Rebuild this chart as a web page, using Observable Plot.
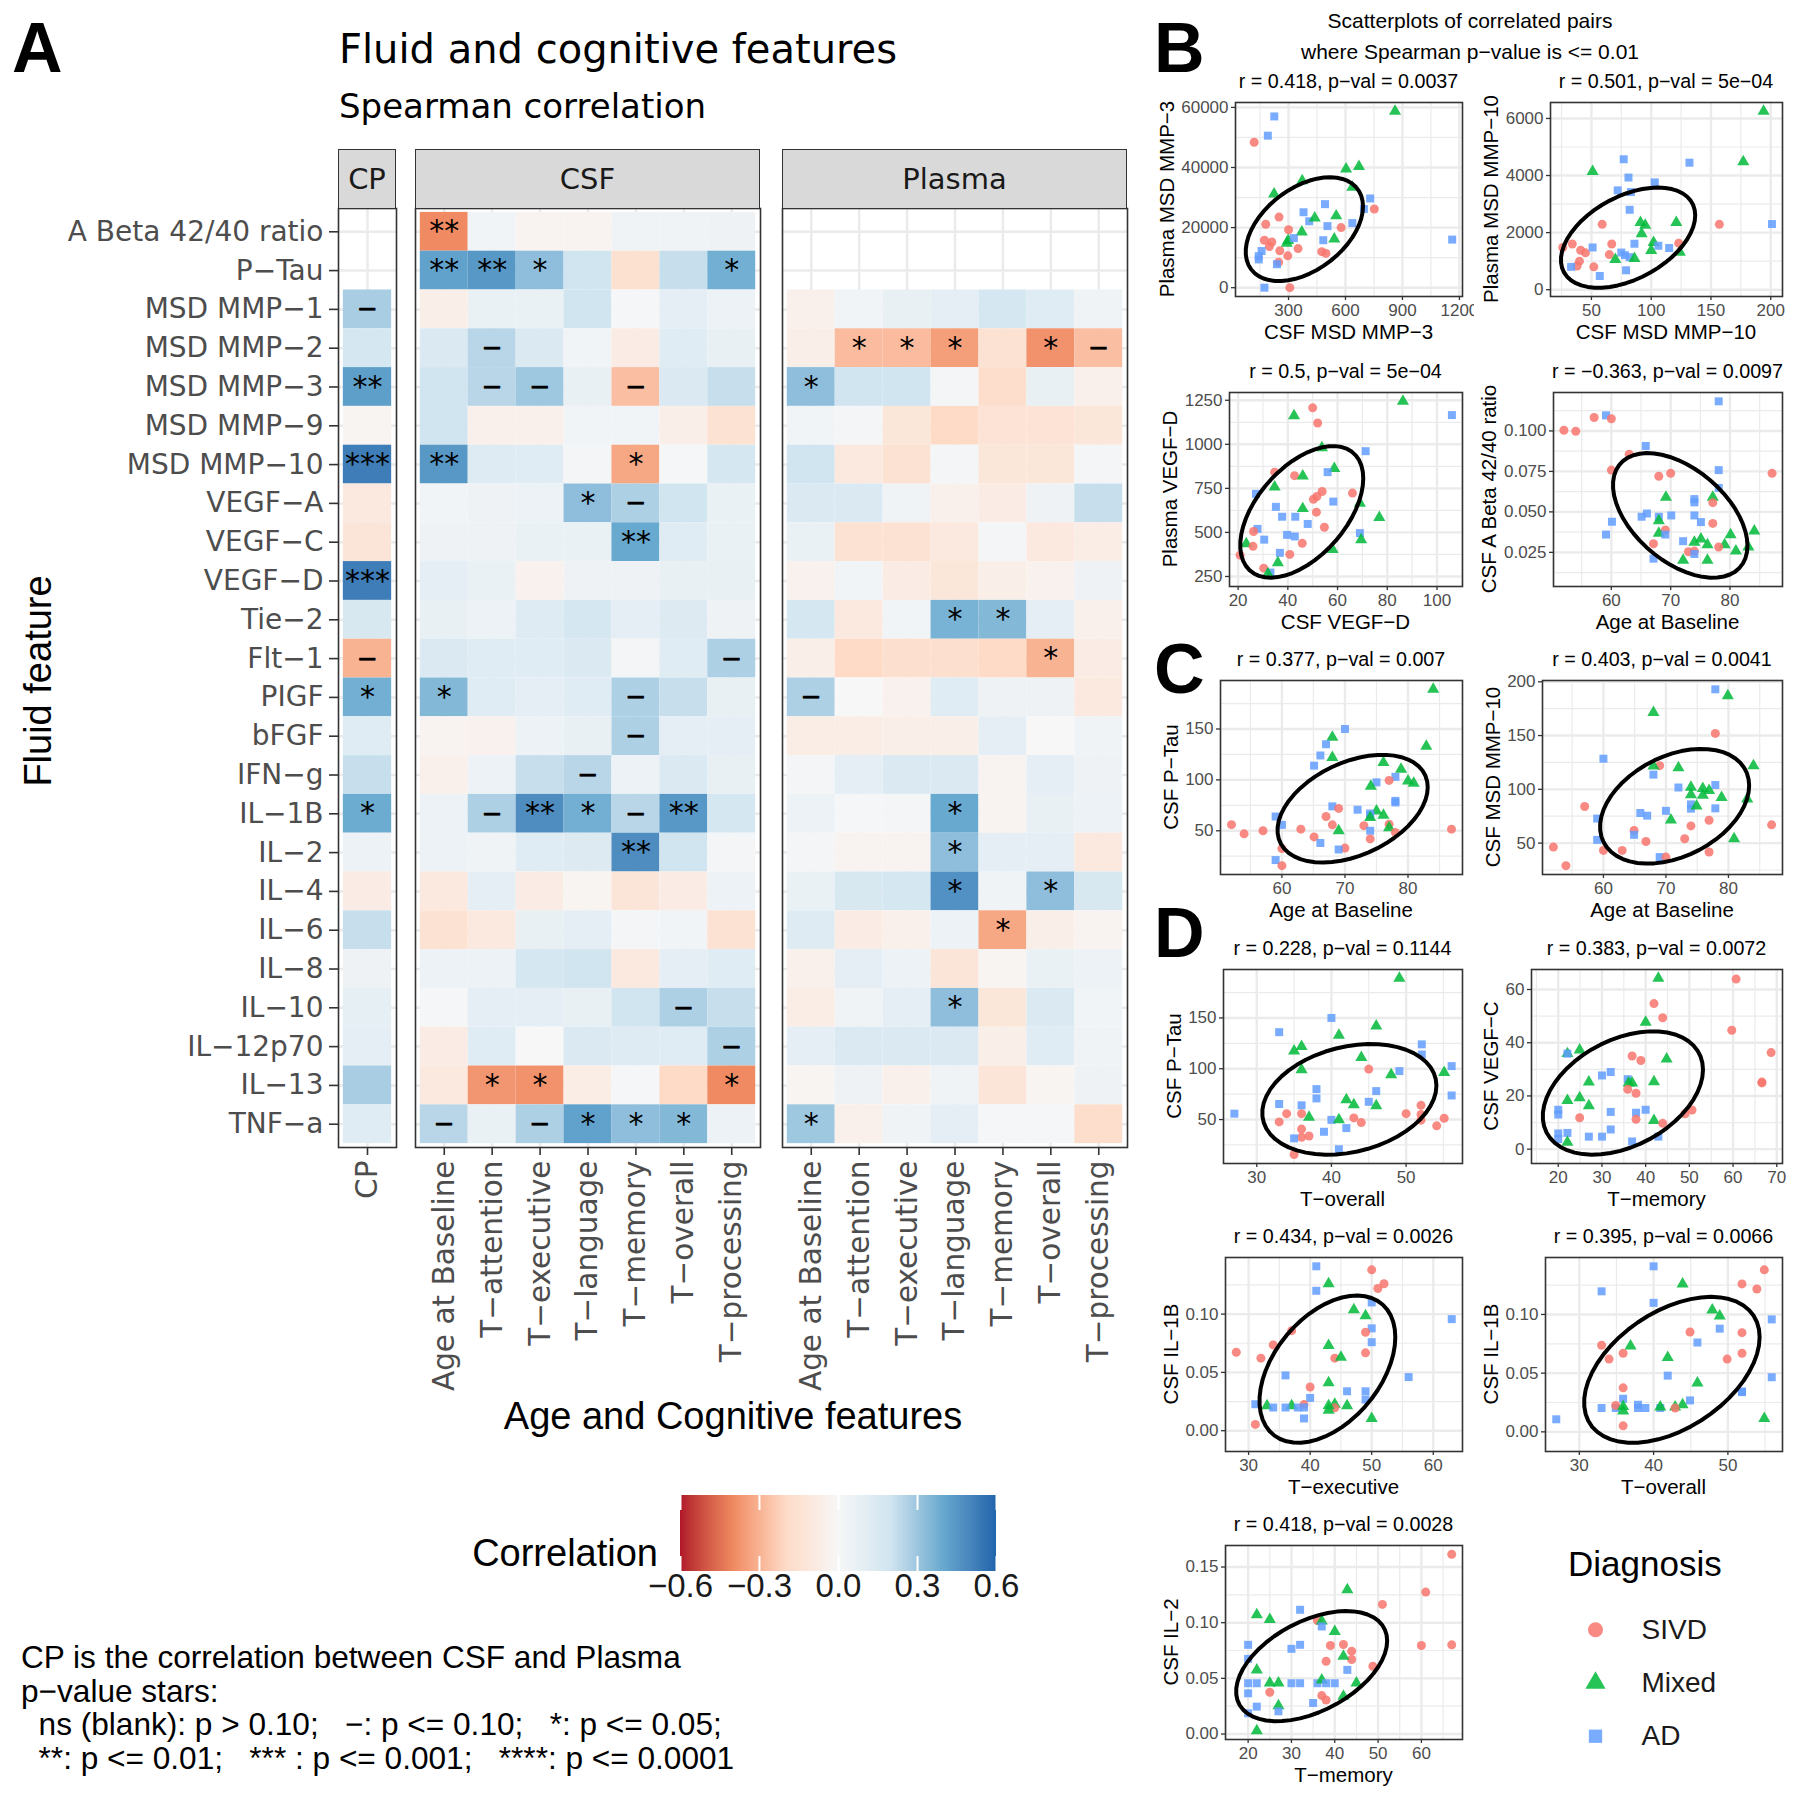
<!DOCTYPE html>
<html><head><meta charset="utf-8">
<script src="https://cdn.jsdelivr.net/npm/d3@7"></script>
<script src="https://cdn.jsdelivr.net/npm/@observablehq/plot@0.6"></script>
<style>
html,body{margin:0;padding:0;background:#fff;}
#root{position:relative;width:1800px;height:1804px;overflow:hidden;background:#fff;}
.t{position:absolute;white-space:pre;line-height:normal;}
.strip{position:absolute;box-sizing:border-box;background:#d9d9d9;border:1.6px solid #333;display:flex;align-items:center;justify-content:center;font-family:"DejaVu Sans",Verdana,sans-serif;font-size:29px;color:#1a1a1a;}
</style></head><body><div id="root"></div><script>
// ---------------- DATA: heatmap ----------------
const rows = ["A Beta 42/40 ratio","P−Tau","MSD MMP−1","MSD MMP−2","MSD MMP−3","MSD MMP−9","MSD MMP−10","VEGF−A","VEGF−C","VEGF−D","Tie−2","Flt−1","PIGF","bFGF","IFN−g","IL−1B","IL−2","IL−4","IL−6","IL−8","IL−10","IL−12p70","IL−13","TNF−a"];
const cpCols = ["CP"];
const cogCols = ["Age at Baseline","T−attention","T−executive","T−language","T−memory","T−overall","T−processing"];
const cpCorr = [null,null,0.28,0.18,0.43,-0.02,0.53,-0.1,-0.13,0.53,0.17,-0.3,0.38,0.12,0.22,0.39,0.06,-0.08,0.22,0.05,0.09,0.1,0.28,0.12];
const cpSig = ["","","−","","**","","***","","","***","","−","*","","","*","","","","","","","",""];
const csfCorr = [
 [-0.40,0.03,-0.03,-0.03,0.04,0.04,0.05],
 [0.42,0.45,0.33,0.2,-0.16,0.22,0.38],
 [-0.06,0.07,0.07,0.2,0.01,0.1,0.06],
 [0.15,0.25,0.15,0.03,-0.08,0.12,0.08],
 [0.2,0.25,0.3,0.08,-0.27,0.15,0.22],
 [0.2,-0.05,-0.05,0.03,0.03,-0.06,-0.15],
 [0.45,0.13,0.12,0.02,-0.33,0.01,0.18],
 [0.03,0.05,0.06,0.33,0.27,0.2,0.07],
 [0.05,0.05,0.07,0.07,0.4,0.12,0.07],
 [0.1,0.07,-0.04,0.05,0.05,0.08,0.08],
 [0.08,0.06,0.13,0.18,0.1,0.14,0.05],
 [0.15,0.12,0.12,0.15,0.02,0.12,0.27],
 [0.35,0.12,0.1,0.12,0.27,0.22,0.08],
 [-0.03,-0.04,0.06,0.08,0.27,0.1,0.1],
 [-0.05,0.06,0.22,0.25,0.06,0.15,0.08],
 [0.06,0.27,0.48,0.38,0.25,0.45,0.18],
 [0.06,0.04,0.12,0.14,0.48,0.2,0.02],
 [-0.1,0.1,-0.08,-0.02,-0.13,-0.08,0.06],
 [-0.15,-0.1,0.08,0.1,0.02,0.03,-0.15],
 [0.06,0.06,0.18,0.2,-0.1,0.1,0.12],
 [0.01,0.1,0.1,0.08,0.2,0.27,0.22],
 [-0.08,0.12,0.0,0.15,0.13,0.12,0.27],
 [-0.1,-0.37,-0.38,-0.07,0.01,-0.2,-0.4],
 [0.25,0.07,0.27,0.42,0.33,0.35,0.06]
];
const csfSig = ["**||||||","**|**|*||||*","||||||","|−|||||","|−|−||−||","||||||","**||||*||","|||*|−||","||||**||","||||||","||||||","||||||−","*||||−||","||||−||","|||−|||","|−|**|*|−|**|","||||**||","||||||","||||||","||||||","|||||−|","||||||−","|*|*||||*","−||−|*|*|*|"];
const plasmaCorr = [
 [null,null,null,null,null,null,null],
 [null,null,null,null,null,null,null],
 [-0.05,0.03,0.08,0.1,0.18,0.12,0.04],
 [-0.06,-0.28,-0.28,-0.35,-0.15,-0.38,-0.27],
 [0.33,0.2,0.2,0.02,-0.18,0.08,-0.05],
 [0.03,0.02,-0.12,-0.2,-0.14,-0.14,-0.12],
 [0.2,-0.1,-0.15,0.02,-0.12,-0.12,0.02],
 [0.15,0.15,0.04,-0.05,-0.08,0.05,0.22],
 [0.07,-0.15,-0.15,-0.1,0.02,-0.1,-0.07],
 [-0.04,0.03,-0.08,-0.12,-0.06,-0.04,0.05],
 [0.18,-0.1,0.03,0.37,0.35,0.1,-0.05],
 [-0.06,-0.2,-0.17,-0.17,-0.2,-0.3,-0.08],
 [0.27,0.0,-0.04,0.12,0.05,0.05,-0.1],
 [-0.07,-0.07,-0.06,-0.06,0.1,0.0,0.04],
 [0.02,0.1,0.15,0.15,-0.03,0.1,0.05],
 [0.06,0.01,0.02,0.4,-0.03,0.08,0.06],
 [0.02,-0.03,-0.03,0.33,0.1,0.1,-0.1],
 [0.07,0.17,0.18,0.47,0.04,0.33,0.17],
 [0.13,-0.08,-0.05,0.06,-0.33,-0.06,-0.03],
 [-0.05,0.1,0.06,-0.13,-0.02,0.07,0.06],
 [-0.07,0.04,0.1,0.33,-0.12,0.15,0.03],
 [0.1,0.15,0.15,0.15,-0.06,0.12,0.04],
 [-0.02,0.05,-0.05,0.04,-0.13,-0.02,0.05],
 [0.3,-0.05,0.04,0.1,0.01,0.01,-0.18]
];
const plasmaSig = ["||||||","||||||","||||||","|*|*|*||*|−","*||||||","||||||","||||||","||||||","||||||","||||||","|||*|*||","|||||*|","−||||||","||||||","||||||","|||*|||","|||*|||","|||*||*|","||||*||","||||||","|||*|||","||||||","||||||","*||||||"];
const rdbuColors = ["#B2182B","#EF8A62","#FDDBC7","#F7F7F7","#D1E5F0","#67A9CF","#2166AC"];
const colorTicks = [-0.6,-0.3,0,0.3,0.6];

// ---------------- DATA: scatterplots ----------------
const groups = ["SIVD","Mixed","AD"];
const groupColors = ["#F8766D","#00BA38","#619CFF"];
const groupSymbols = ["circle","triangle","square"];
const gcode = {S:"SIVD", M:"Mixed", A:"AD"};
const ellipseLevel = 0.76;

const b1Pts = [[225,57000,"A"],[191,50600,"A"],[119,48400,"S"],[861,58700,"M"],[603,39500,"M"],[671,40300,"M"],[372,35600,"M"],[224,31200,"M"],[636,33400,"M"],[730,29700,"A"],[697,26200,"A"],[752,26200,"S"],[492,27800,"A"],[379,25100,"A"],[409,22100,"A"],[438,23200,"M"],[551,23900,"M"],[250,23500,"S"],[180,21100,"S"],[300,19300,"S"],[505,20500,"A"],[577,20000,"S"],[636,21500,"A"],[370,18500,"M"],[173,15800,"S"],[212,15200,"S"],[199,13700,"S"],[298,15700,"M"],[291,14800,"M"],[328,16500,"A"],[483,15800,"A"],[541,16200,"M"],[1162,16000,"A"],[350,13000,"S"],[254,12300,"S"],[475,12000,"S"],[497,11400,"S"],[296,10600,"S"],[158,12200,"A"],[143,10500,"A"],[143,9400,"A"],[248,8500,"S"],[239,7800,"A"],[173,0,"A"],[307,0,"S"]];
const b2Pts = [[194,6250,"M"],[177,4480,"M"],[132,4450,"A"],[77,4570,"A"],[51,4140,"M"],[81,3930,"A"],[103,3760,"A"],[72,3480,"A"],[83,3420,"A"],[82,2800,"A"],[59,2290,"S"],[157,2290,"S"],[201,2300,"A"],[91,2350,"M"],[95,2260,"M"],[121,2350,"M"],[92,1960,"M"],[86,1610,"A"],[102,1650,"M"],[106,1540,"A"],[115,1460,"A"],[123,1630,"S"],[124,1310,"M"],[100,1370,"M"],[26,1480,"S"],[34,1600,"S"],[41,1380,"S"],[45,1290,"S"],[51,1480,"A"],[67,1600,"S"],[75,1300,"A"],[78,1210,"A"],[65,1230,"S"],[82,1140,"A"],[70,1060,"M"],[86,1090,"M"],[40,1000,"S"],[38,830,"S"],[52,800,"S"],[33,800,"A"],[79,680,"A"],[57,480,"A"]];
const b3Pts = [[86.3,1244,"M"],[106,1166,"A"],[50,1207,"S"],[52,1121,"S"],[42.5,1162,"M"],[53.7,980,"M"],[71.3,961,"A"],[58.7,863,"M"],[56,842,"A"],[34.7,842,"S"],[42.7,822,"S"],[46,820,"M"],[34.7,758,"M"],[27.2,719,"A"],[53.8,732,"S"],[51.7,704,"S"],[50.3,688,"S"],[66,723,"S"],[58.3,675,"A"],[69,665,"M"],[35.2,645,"A"],[46,635,"M"],[51.5,615,"S"],[37.7,589,"A"],[43,589,"A"],[76.8,585,"M"],[48,548,"A"],[54.7,529,"S"],[27.8,520,"A"],[26.2,505,"S"],[69,496,"A"],[39.7,486,"A"],[42.8,477,"A"],[69.5,459,"M"],[30.5,459,"A"],[45.8,438,"S"],[23.3,436,"M"],[26,421,"S"],[58,403,"M"],[36.8,384,"A"],[40.8,375,"S"],[20.8,371,"S"],[36,328,"M"],[30.3,297,"S"],[33,272,"A"],[32,265,"M"]];
const b4Pts = [[52,0.1004,"S"],[54,0.0998,"S"],[57.1,0.1083,"S"],[59.1,0.1096,"A"],[60,0.1075,"S"],[78.1,0.1183,"A"],[65.8,0.0907,"A"],[63,0.0856,"S"],[60,0.0758,"S"],[78.1,0.0758,"A"],[68,0.072,"S"],[70,0.0738,"S"],[87.1,0.0738,"S"],[78.1,0.0648,"A"],[69.2,0.0591,"M"],[77.1,0.0591,"M"],[74,0.0579,"A"],[74,0.0559,"A"],[77.1,0.0557,"S"],[66,0.049,"A"],[65.1,0.047,"A"],[68,0.047,"A"],[70.1,0.0478,"A"],[74,0.0478,"A"],[60.1,0.0439,"A"],[68,0.0445,"M"],[75.1,0.0437,"A"],[77.1,0.0429,"S"],[69.1,0.0388,"S"],[68,0.0368,"M"],[59.1,0.036,"A"],[69.1,0.036,"A"],[84.1,0.0382,"M"],[80.1,0.0358,"M"],[75.1,0.0333,"M"],[74,0.0313,"M"],[72.1,0.0319,"A"],[76.2,0.0297,"M"],[79.1,0.0297,"M"],[67.1,0.0303,"S"],[83.1,0.0283,"M"],[78.1,0.0283,"S"],[81,0.0258,"M"],[73,0.0254,"S"],[74,0.0258,"S"],[74,0.024,"A"],[72.1,0.0201,"M"],[76.2,0.0201,"M"],[67.1,0.0211,"A"]];
const c1Pts = [[84,189,"M"],[70,150,"A"],[68,142,"M"],[67,135,"A"],[82.9,133,"M"],[66.1,124,"A"],[68,122,"M"],[65.1,114,"A"],[76.1,117,"M"],[78.9,110.5,"M"],[78,103,"A"],[77,99.5,"S"],[80,99,"M"],[80.9,96.6,"M"],[75,97.6,"A"],[74.1,93.7,"M"],[78,79.4,"A"],[78,77.8,"A"],[68,74,"A"],[69,72,"S"],[72,70.7,"A"],[75,69.4,"M"],[74,67,"A"],[76.1,65.2,"M"],[74,65,"A"],[67,64,"S"],[74,63,"M"],[68,55.8,"S"],[73,55,"S"],[77,56.5,"S"],[59,64,"A"],[60,55.8,"A"],[52,56,"S"],[54,47,"S"],[57,50,"S"],[63,51.6,"S"],[86.9,51.6,"S"],[69,50,"M"],[77,53,"M"],[78,48.4,"S"],[74,50,"A"],[65.1,44,"S"],[74,42,"S"],[66.1,38,"A"],[70,33,"S"],[69,31.6,"A"],[60,32.5,"S"],[59,21.2,"A"],[60,15.7,"S"]];
const c2Pts = [[77.9,193,"A"],[79.9,187,"M"],[68,171.5,"M"],[77.9,152,"S"],[60,128.5,"A"],[84,122,"M"],[69,122,"S"],[68,121.7,"M"],[72,120,"M"],[68,113.7,"A"],[77.9,104,"A"],[74,102,"M"],[72,101.7,"A"],[75.9,100.8,"M"],[76.9,99,"M"],[74,95,"M"],[75.9,94.6,"M"],[78.9,92.5,"M"],[83,91,"M"],[74,86,"A"],[74,82,"A"],[74.9,84.5,"M"],[77.9,82.3,"A"],[70,80,"A"],[57,84,"S"],[65.9,78,"A"],[67,75.5,"A"],[70.8,71.5,"M"],[76.9,71.2,"S"],[59,72.8,"A"],[74,66,"S"],[86.9,67,"S"],[64.9,61.7,"S"],[64.9,57.7,"A"],[73,54,"S"],[80.9,54,"M"],[59,53,"A"],[66.8,51.5,"S"],[52,46.3,"S"],[60,43.2,"S"],[63,43.2,"S"],[76.9,41.7,"S"],[69,37,"A"],[70,37,"S"],[54,29,"S"]];
const d1Pts = [[49.1,189,"M"],[40,150,"A"],[33,136,"A"],[46,142,"M"],[41,133,"M"],[52.1,124,"A"],[52.1,114,"A"],[36,122,"M"],[35,117.5,"M"],[44,111,"M"],[36,99,"M"],[45,99.7,"S"],[56.1,102.6,"A"],[49.1,97.7,"A"],[55.1,96.4,"M"],[48,94,"M"],[38,80,"A"],[38,70.8,"A"],[46,78,"A"],[56.1,73.7,"A"],[42,69.5,"M"],[43,64.6,"M"],[45,67.5,"A"],[46,63.6,"M"],[33,65.3,"A"],[36,64,"A"],[52,64,"S"],[27,55.8,"A"],[34,55.8,"S"],[36,55.8,"S"],[50,55.8,"S"],[52,55,"S"],[37,52.3,"M"],[43,51.6,"S"],[55.1,51.3,"S"],[40,49.7,"A"],[41,49.7,"M"],[52,49.4,"S"],[33,47.7,"S"],[44,47,"S"],[54.1,43.8,"S"],[42,41.6,"A"],[36,40.6,"S"],[39,38,"A"],[37,33.8,"S"],[36,32.5,"S"],[35,31.5,"A"],[41,20.8,"A"],[35,15.6,"S"]];
const d2Pts = [[42.9,64.2,"M"],[60.7,63.9,"S"],[41.9,54.7,"S"],[43.9,49.4,"S"],[59.7,44.7,"S"],[40,47.7,"M"],[68.7,36.3,"S"],[22.1,35.9,"M"],[22.1,35.9,"A"],[24.9,37.3,"M"],[44.8,33.9,"M"],[36.9,35,"S"],[38.9,33.3,"S"],[32,29,"A"],[30,27.7,"A"],[35.9,26.3,"A"],[36.1,24.9,"M"],[36.9,24.9,"M"],[27,25.2,"M"],[41.9,25.3,"M"],[35.9,22.5,"S"],[37.8,21,"S"],[66.6,25.2,"S"],[66.6,24.9,"S"],[22.1,18.3,"M"],[24.9,19.3,"M"],[27,16.3,"M"],[20,14.8,"A"],[20,13,"A"],[32,14,"A"],[37.8,13.7,"A"],[40,14.8,"A"],[24.9,11.8,"S"],[37.8,11.2,"S"],[41.9,10.8,"M"],[43.9,9.7,"S"],[49,13.3,"S"],[50.6,14.7,"S"],[32,7.4,"A"],[20,5.9,"A"],[22.1,6.1,"A"],[27,4.7,"A"],[30,4.7,"A"],[42.9,4.7,"A"],[36.9,2.9,"A"],[20,3.8,"A"],[22.1,2.6,"M"]];
const d3Pts = [[41,0.141,"A"],[50,0.138,"S"],[43,0.126,"M"],[52,0.126,"S"],[51,0.122,"S"],[41,0.12,"A"],[50,0.11,"A"],[47.1,0.1037,"M"],[49,0.0986,"M"],[63,0.0957,"A"],[50,0.0878,"A"],[49,0.0844,"S"],[37,0.0858,"S"],[50,0.0759,"A"],[43,0.073,"M"],[34,0.0736,"S"],[28,0.0673,"S"],[49,0.0668,"S"],[32,0.0622,"S"],[44,0.0622,"S"],[45,0.063,"M"],[36,0.0474,"A"],[56,0.046,"A"],[43,0.0412,"M"],[40,0.0375,"S"],[46,0.0338,"A"],[49,0.0338,"A"],[40,0.0281,"A"],[49,0.0267,"A"],[31.1,0.0227,"A"],[33,0.0213,"M"],[34,0.0199,"A"],[37,0.0213,"M"],[36,0.0199,"A"],[38,0.0199,"A"],[39,0.0224,"S"],[39,0.0199,"A"],[44,0.0227,"M"],[44,0.0196,"S"],[43,0.0213,"M"],[46,0.0213,"M"],[43,0.0176,"M"],[39,0.0105,"A"],[50,0.0105,"M"],[31.1,0.0054,"S"]];
const d4Pts = [[40,0.141,"A"],[54.9,0.138,"S"],[51.9,0.126,"S"],[53.9,0.1217,"S"],[43.9,0.1259,"M"],[33,0.1197,"A"],[40,0.1099,"A"],[47.9,0.1037,"M"],[48.9,0.0986,"M"],[55.9,0.0958,"A"],[48.9,0.0879,"A"],[44.9,0.0851,"S"],[51.9,0.0845,"S"],[45.9,0.0761,"A"],[36.9,0.0732,"M"],[33,0.0738,"S"],[35.9,0.067,"S"],[51.9,0.067,"S"],[34,0.062,"S"],[49.9,0.062,"S"],[41.9,0.0634,"M"],[41.9,0.0479,"A"],[55.9,0.0465,"A"],[45.9,0.0417,"M"],[35.9,0.0375,"S"],[44.9,0.0268,"A"],[51.9,0.0344,"A"],[51.9,0.0338,"A"],[35.9,0.0282,"A"],[33,0.0203,"A"],[34.9,0.0203,"A"],[34.9,0.0225,"S"],[35.9,0.0217,"M"],[35.9,0.0177,"M"],[37.9,0.0231,"A"],[37.9,0.0203,"A"],[38.9,0.0203,"A"],[40.9,0.0203,"A"],[40.9,0.0211,"M"],[42.9,0.0211,"M"],[43.9,0.0231,"M"],[42.9,0.0203,"S"],[26.9,0.0107,"A"],[54.9,0.0113,"M"],[35.9,0.0051,"S"]];
const d5Pts = [[67,0.1614,"S"],[61,0.1275,"S"],[42.9,0.1296,"M"],[51,0.1164,"S"],[32,0.1116,"A"],[22,0.1071,"M"],[25,0.1029,"M"],[36,0.102,"S"],[37,0.1014,"M"],[37,0.0966,"A"],[40,0.0921,"M"],[20,0.0801,"A"],[32,0.0801,"A"],[42,0.0804,"S"],[39,0.0795,"S"],[60,0.0795,"S"],[67,0.0801,"S"],[30,0.0765,"A"],[43.9,0.0744,"S"],[43.9,0.0669,"S"],[42,0.0699,"M"],[20,0.0675,"A"],[38,0.0654,"S"],[48.8,0.0609,"S"],[42.9,0.0576,"A"],[22,0.0576,"M"],[20,0.0456,"A"],[22,0.0456,"A"],[25,0.0459,"M"],[27,0.0459,"M"],[30,0.0456,"A"],[32,0.0456,"A"],[36,0.0456,"A"],[37,0.0486,"M"],[38,0.0456,"A"],[40,0.0456,"A"],[45,0.0459,"M"],[25,0.0375,"S"],[20,0.0366,"A"],[37,0.0345,"S"],[42,0.0339,"M"],[38,0.0306,"S"],[35,0.0279,"A"],[27,0.0255,"M"],[22,0.0246,"A"],[27,0.0204,"A"],[20,0.0186,"A"],[22,0.003,"M"]];

// tick values and labels
const b1XT=[300,600,900,1200], b1XL=["300","600","900","1200"], b1YT=[0,20000,40000,60000], b1YL=["0","20000","40000","60000"];
const b2XT=[50,100,150,200], b2XL=["50","100","150","200"], b2YT=[0,2000,4000,6000], b2YL=["0","2000","4000","6000"];
const b3XT=[20,40,60,80,100], b3XL=["20","40","60","80","100"], b3YT=[250,500,750,1000,1250], b3YL=["250","500","750","1000","1250"];
const b4XT=[60,70,80], b4XL=["60","70","80"], b4YT=[0.025,0.05,0.075,0.1], b4YL=["0.025","0.050","0.075","0.100"];
const c1XT=[60,70,80], c1XL=["60","70","80"], c1YT=[50,100,150], c1YL=["50","100","150"];
const c2XT=[60,70,80], c2XL=["60","70","80"], c2YT=[50,100,150,200], c2YL=["50","100","150","200"];
const d1XT=[30,40,50], d1XL=["30","40","50"], d1YT=[50,100,150], d1YL=["50","100","150"];
const d2XT=[20,30,40,50,60,70], d2XL=["20","30","40","50","60","70"], d2YT=[0,20,40,60], d2YL=["0","20","40","60"];
const d3XT=[30,40,50,60], d3XL=["30","40","50","60"], d3YT=[0,0.05,0.1], d3YL=["0.00","0.05","0.10"];
const d4XT=[30,40,50], d4XL=["30","40","50"], d4YT=[0,0.05,0.1], d4YL=["0.00","0.05","0.10"];
const d5XT=[20,30,40,50,60,70], d5XL=["20","30","40","50","60","70"], d5YT=[0,0.05,0.1,0.15], d5YL=["0.00","0.05","0.10","0.15"];

// ---------------- helpers ----------------
const root = document.getElementById("root");
const SANS = '"Liberation Sans", Arial, Helvetica, sans-serif';
const DEJA = '"DejaVu Sans", Verdana, sans-serif';
function txt(s, x, y, o = {}) {
  const d = document.createElement("div");
  d.className = "t";
  d.textContent = s;
  d.style.left = x + "px"; d.style.top = y + "px";
  d.style.fontFamily = o.font || SANS;
  d.style.fontSize = (o.size || 20) + "px";
  d.style.color = o.color || "#000";
  if (o.weight) d.style.fontWeight = o.weight;
  const ax = o.anchor === "start" ? "0" : o.anchor === "end" ? "-100%" : "-50%";
  d.style.transform = `translate(${ax},-50%)` + (o.rotate ? ` rotate(${o.rotate}deg)` : "");
  root.appendChild(d);
  return d;
}
function place(node, left, top) {
  node.style.position = "absolute";
  node.style.left = left + "px";
  node.style.top = top + "px";
  root.appendChild(node);
}
const rdbu = d3.piecewise(d3.interpolateLab, rdbuColors);
const colorScale = {type: "linear", domain: [-0.6, 0.6], interpolate: rdbu};

// ---------------- heatmap panels ----------------
const P_TOP = 208, P_H = 939, STRIP_TOP = 149;
function heatPanel(cols, vals, sigs, left, right, withY, stripLabel) {
  const data = [];
  rows.forEach((r, i) => {
    const sg = sigs[i].split("|");
    cols.forEach((c, j) => {
      const v = vals[i][j];
      if (v !== null && v !== undefined) data.push({r, c, v, s: sg[j] || ""});
    });
  });
  const mL = withY ? left - 20 : 3, mR = 3, mT = 3, mB = 300;
  const W = right - left;
  const svg = Plot.plot({
    width: W + mL + mR, height: P_H + mT + mB,
    marginLeft: mL, marginRight: mR, marginTop: mT, marginBottom: mB,
    style: {fontFamily: DEJA, fontSize: "28px", background: "transparent", overflow: "visible", maxWidth: "none"},
    x: {type: "band", domain: cols, paddingInner: 0, paddingOuter: 0.1, round: false, axis: null},
    y: {type: "band", domain: rows, paddingInner: 0, paddingOuter: 0.1, round: false, axis: null},
    color: colorScale,
    marks: [
      Plot.gridX({stroke: "#ebebeb", strokeOpacity: 1, strokeWidth: 2.5}),
      Plot.gridY({stroke: "#ebebeb", strokeOpacity: 1, strokeWidth: 2.5}),
      Plot.cell(data, {x: "c", y: "r", fill: "v", inset: 0}),
      Plot.text(data.filter(d => d.s && d.s !== "−"), {x: "c", y: "r", text: "s", fontSize: 30, fill: "black"}),
      Plot.text(data.filter(d => d.s === "−"), {x: "c", y: "r", text: "s", fontSize: 25, fill: "black", stroke: "black", strokeWidth: 0.7}),
      Plot.frame({stroke: "#333", strokeWidth: 1.6}),
      Plot.axisX({tickRotate: -90, tickSize: 8, tickPadding: 5, label: null, stroke: "#333", strokeWidth: 1.6, fill: "#4d4d4d", fontSize: 29.5}),
      withY ? Plot.axisY({tickSize: 9, tickPadding: 6, label: null, stroke: "#333", strokeWidth: 1.6, fill: "#4d4d4d", fontSize: 28}) : null
    ]
  });
  place(svg, left - mL, P_TOP - mT);
  const st = document.createElement("div");
  st.className = "strip";
  st.style.left = left + "px"; st.style.top = STRIP_TOP + "px";
  st.style.width = W + "px"; st.style.height = (P_TOP - STRIP_TOP + 1) + "px";
  st.textContent = stripLabel;
  root.appendChild(st);
}
heatPanel(cpCols, cpCorr.map(v => [v]), cpSig.map(s => s), 338, 396, true, "CP");
heatPanel(cogCols, csfCorr, csfSig, 415, 760, false, "CSF");
heatPanel(cogCols, plasmaCorr, plasmaSig, 782, 1127, false, "Plasma");

// titles & axis titles for heatmap
txt("A", 12, 48, {size: 70, weight: "bold", anchor: "start"});
txt("Fluid and cognitive features", 339, 49, {font: DEJA, size: 40, anchor: "start"});
txt("Spearman correlation", 339, 106, {font: DEJA, size: 34, anchor: "start"});
txt("Fluid feature", 38, 681, {size: 38, rotate: -90});
txt("Age and Cognitive features", 733, 1416, {size: 38});
txt("Correlation", 658, 1553, {size: 38, anchor: "end"});

// colour bar
const cbar = Plot.legend({
  color: colorScale, width: 356, height: 76 + 44, marginTop: 0, marginBottom: 44, marginLeft: 20, marginRight: 20,
  ticks: colorTicks, tickFormat: d3.format(".1f"), tickSize: 0, label: null,
  style: {fontFamily: SANS, fontSize: "33px", color: "#1a1a1a", background: "transparent", maxWidth: "none", overflow: "visible"}
});
place(cbar, 660, 1495);
cbar.querySelectorAll(".tick line").forEach(l => {
  l.setAttribute("stroke", "white");
  l.setAttribute("stroke-width", "2");
  l.setAttribute("y1", "-76"); l.setAttribute("y2", "0");
  l.setAttribute("stroke-dasharray", "15 46 15");
});

// caption
const capLines = ["CP is the correlation between CSF and Plasma", "p−value stars:", "  ns (blank): p > 0.10;   −: p <= 0.10;   *: p <= 0.05;", "  **: p <= 0.01;   *** : p <= 0.001;   ****: p <= 0.0001"];
capLines.forEach((s, i) => txt(s, 21, 1657 + i * 33.5, {size: 31.6, anchor: "start"}));

// ---------------- scatterplots ----------------
function trobEllipse(pts) {
  const n = pts.length, p = 2, nu = 5;
  let loc = [d3.mean(pts, d => d.x), d3.mean(pts, d => d.y)];
  let w = pts.map(() => 1), X;
  for (let it = 0; it < 25; it++) {
    const w0 = w.slice();
    X = pts.map(d => [d.x - loc[0], d.y - loc[1]]);
    const sw = d3.sum(w);
    let a = 0, b = 0, c = 0;
    X.forEach((v, i) => { const wi = w[i] / sw; a += wi * v[0] * v[0]; b += wi * v[0] * v[1]; c += wi * v[1] * v[1]; });
    const det = a * c - b * b;
    const Q = X.map(v => (c * v[0] * v[0] - 2 * b * v[0] * v[1] + a * v[1] * v[1]) / det);
    w = Q.map(q => (nu + p) / (nu + q));
    const sw2 = d3.sum(w);
    loc = [d3.sum(pts, (d, i) => w[i] * d.x) / sw2, d3.sum(pts, (d, i) => w[i] * d.y) / sw2];
    if (w.every((wi, i) => Math.abs(wi - w0[i]) < 0.01)) break;
  }
  let a = 0, b = 0, c = 0;
  X.forEach((v, i) => { a += w[i] * v[0] * v[0]; b += w[i] * v[0] * v[1]; c += w[i] * v[1] * v[1]; });
  a /= n; b /= n; c /= n;
  const dfd = n - 1;
  const F = (dfd / 2) * (Math.pow(1 - ellipseLevel, -2 / dfd) - 1);
  const radius = Math.sqrt(2 * F);
  const R11 = Math.sqrt(a), R12 = b / R11, R22 = Math.sqrt(c - R12 * R12);
  const out = [];
  for (let k = 0; k <= 51; k++) {
    const t = k * 2 * Math.PI / 51, ct = Math.cos(t), s = Math.sin(t);
    out.push({x: loc[0] + radius * ct * R11, y: loc[1] + radius * (ct * R12 + s * R22)});
  }
  return out;
}
function minorOf(ticks, lo, hi) {
  const step = ticks[1] - ticks[0], out = [];
  for (let i = -3; i < ticks.length + 3; i++) {
    const m = ticks[0] + (i + 0.5) * step;
    if (m > lo && m < hi) out.push(m);
  }
  return out;
}
const meas = document.createElement("canvas").getContext("2d");
function scatter(pts, box, xt, xl, yt, yl, title, xlab, ylab) {
  const data = pts.map(([x, y, g]) => ({x, y, g: gcode[g]}));
  const ell = trobEllipse(data);
  const [xa, xb] = d3.extent(data.concat(ell), d => d.x);
  const [ya, yb] = d3.extent(data.concat(ell), d => d.y);
  const xd = [xa - (xb - xa) * 0.05, xb + (xb - xa) * 0.05];
  const yd = [ya - (yb - ya) * 0.05, yb + (yb - ya) * 0.05];
  const [L, T, R, B] = box;
  const mL = 70, mR = 12, mT = 8, mB = 34;
  const xIn = xt.filter(v => v >= xd[0] && v <= xd[1]);
  const yIn = yt.filter(v => v >= yd[0] && v <= yd[1]);
  const svg = Plot.plot({
    width: R - L + mL + mR, height: B - T + mT + mB,
    marginLeft: mL, marginRight: mR, marginTop: mT, marginBottom: mB,
    style: {fontFamily: SANS, fontSize: "17px", background: "transparent", overflow: "hidden", maxWidth: "none"},
    x: {domain: xd, axis: null}, y: {domain: yd, axis: null},
    color: {domain: groups, range: groupColors},
    symbol: {domain: groups, range: groupSymbols},
    marks: [
      Plot.gridX(minorOf(xt, xd[0], xd[1]), {stroke: "#ebebeb", strokeOpacity: 1, strokeWidth: 1.2}),
      Plot.gridY(minorOf(yt, yd[0], yd[1]), {stroke: "#ebebeb", strokeOpacity: 1, strokeWidth: 1.2}),
      Plot.gridX(xIn, {stroke: "#ebebeb", strokeOpacity: 1, strokeWidth: 2.4}),
      Plot.gridY(yIn, {stroke: "#ebebeb", strokeOpacity: 1, strokeWidth: 2.4}),
      Plot.dot(data, {x: "x", y: "y", fill: "g", symbol: "g", r: 4.5, fillOpacity: 0.85}),
      Plot.line(ell, {x: "x", y: "y", stroke: "black", strokeWidth: 4}),
      Plot.frame({stroke: "#333", strokeWidth: 1.6}),
      Plot.axisX(xIn, {tickSize: 4, tickPadding: 3, label: null, tickFormat: d => xl[xt.indexOf(d)], stroke: "#333", strokeWidth: 1.3, fill: "#4d4d4d"}),
      Plot.axisY(yIn, {tickSize: 4, tickPadding: 3, label: null, tickFormat: d => yl[yt.indexOf(d)], stroke: "#333", strokeWidth: 1.3, fill: "#4d4d4d"})
    ]
  });
  place(svg, L - mL, T - mT);
  meas.font = `17px ${SANS}`;
  const lw = d3.max(yIn, v => meas.measureText(yl[yt.indexOf(v)]).width);
  txt(title, (L + R) / 2, T - 21, {size: 19.7});
  txt(xlab, (L + R) / 2, B + 36, {size: 20.5});
  txt(ylab, L - (lw + 21), (T + B) / 2, {size: 20.5, rotate: -90});
}
scatter(b1Pts, [1235, 102, 1462, 296], b1XT, b1XL, b1YT, b1YL, "r = 0.418, p−val = 0.0037", "CSF MSD MMP−3", "Plasma MSD MMP−3");
scatter(b2Pts, [1550, 102, 1782, 296], b2XT, b2XL, b2YT, b2YL, "r = 0.501, p−val = 5e−04", "CSF MSD MMP−10", "Plasma MSD MMP−10");
scatter(b3Pts, [1229, 392, 1462, 586], b3XT, b3XL, b3YT, b3YL, "r = 0.5, p−val = 5e−04", "CSF VEGF−D", "Plasma VEGF−D");
scatter(b4Pts, [1553, 392, 1782, 586], b4XT, b4XL, b4YT, b4YL, "r = −0.363, p−val = 0.0097", "Age at Baseline", "CSF A Beta 42/40 ratio");
scatter(c1Pts, [1220, 680, 1462, 874], c1XT, c1XL, c1YT, c1YL, "r = 0.377, p−val = 0.007", "Age at Baseline", "CSF P−Tau");
scatter(c2Pts, [1542, 680, 1782, 874], c2XT, c2XL, c2YT, c2YL, "r = 0.403, p−val = 0.0041", "Age at Baseline", "CSF MSD MMP−10");
scatter(d1Pts, [1223, 969, 1462, 1163], d1XT, d1XL, d1YT, d1YL, "r = 0.228, p−val = 0.1144", "T−overall", "CSF P−Tau");
scatter(d2Pts, [1531, 969, 1782, 1163], d2XT, d2XL, d2YT, d2YL, "r = 0.383, p−val = 0.0072", "T−memory", "CSF VEGF−C");
scatter(d3Pts, [1225, 1257, 1462, 1451], d3XT, d3XL, d3YT, d3YL, "r = 0.434, p−val = 0.0026", "T−executive", "CSF IL−1B");
scatter(d4Pts, [1545, 1257, 1782, 1451], d4XT, d4XL, d4YT, d4YL, "r = 0.395, p−val = 0.0066", "T−overall", "CSF IL−1B");
scatter(d5Pts, [1225, 1545, 1462, 1739], d5XT, d5XL, d5YT, d5YL, "r = 0.418, p−val = 0.0028", "T−memory", "CSF IL−2");

txt("B", 1154, 48, {size: 70, weight: "bold", anchor: "start"});
txt("C", 1154, 669, {size: 70, weight: "bold", anchor: "start"});
txt("D", 1154, 933, {size: 70, weight: "bold", anchor: "start"});
txt("Scatterplots of correlated pairs", 1470, 21, {size: 21});
txt("where Spearman p−value is <= 0.01", 1470, 52, {size: 21});

// diagnosis legend
txt("Diagnosis", 1568, 1564, {size: 35, anchor: "start"});
const leg = Plot.plot({
  width: 200, height: 165, margin: 0,
  x: {axis: null}, y: {domain: groups, type: "band", axis: null, round: false},
  color: {domain: groups, range: groupColors},
  symbol: {domain: groups, range: groupSymbols},
  style: {fontFamily: SANS, fontSize: "28px", background: "transparent", maxWidth: "none", overflow: "visible"},
  marks: [
    Plot.dot(groups, {y: d => d, frameAnchor: "left", dx: 15, fill: d => d, symbol: d => d, r: 7.5, fillOpacity: 0.85}),
    Plot.text(groups, {y: d => d, frameAnchor: "left", dx: 61, text: d => d, textAnchor: "start", fontSize: 28, fill: "#1a1a1a"})
  ]
});
place(leg, 1580, 1600);
</script></body></html>
